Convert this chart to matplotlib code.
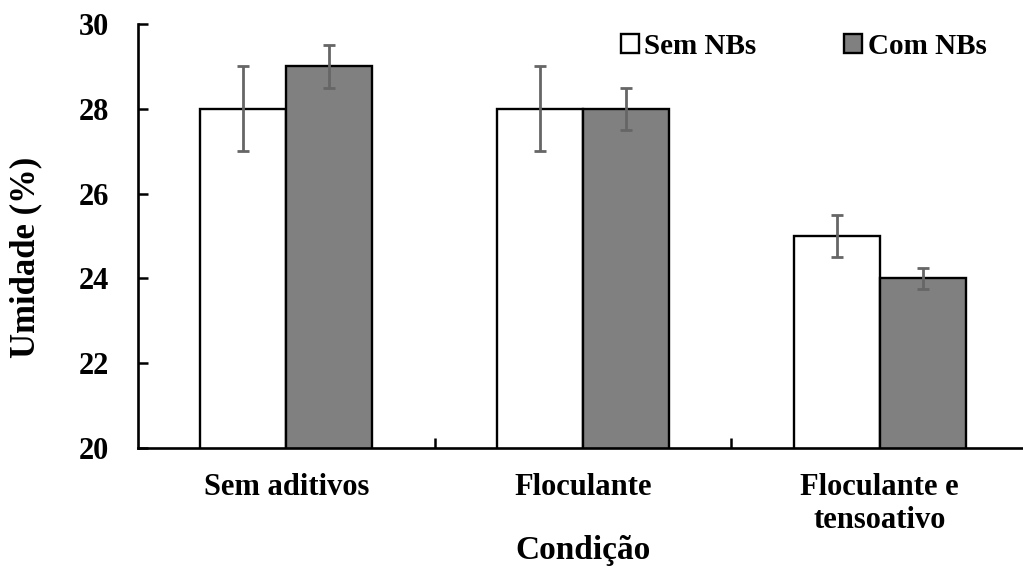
import numpy as np
import matplotlib.pyplot as plt

plt.rcParams['font.family'] = ['Liberation Serif', 'DejaVu Serif']
plt.rcParams['font.weight'] = 'bold'

condicoes = ['Sem aditivos', 'Floculante', 'Floculante e\ntensoativo']
sem_nbs = [28, 28, 25]
sem_nbs_err = [1, 1, 0.5]
com_nbs = [29, 28, 24]
com_nbs_err = [0.5, 0.5, 0.25]

x = np.arange(len(condicoes))
w = 0.29

fig = plt.figure(figsize=(10.23, 5.66), dpi=100)
ax = fig.add_axes([138 / 1023, 1 - 448 / 566, 890 / 1023, 424 / 566])

err_kw = dict(ecolor='#666666', elinewidth=2.0, capsize=4.5, capthick=2.0)
ax.bar(x - w / 2, sem_nbs, w, yerr=sem_nbs_err, color='white', edgecolor='black',
       linewidth=1.7, label='Sem NBs', error_kw=err_kw, zorder=2)
ax.bar(x + w / 2, com_nbs, w, yerr=com_nbs_err, color='#808080', edgecolor='black',
       linewidth=1.7, label='Com NBs', error_kw=err_kw, zorder=2)

ax.set_xlim(-0.5, 2.5)
ax.set_ylim(20, 30)
ax.set_yticks([20, 22, 24, 26, 28, 30])
ax.set_xticks(x)
ax.set_xticklabels(condicoes, fontsize=22, fontweight='bold', linespacing=1.2)
ax.set_xticks([0.5, 1.5], minor=True)
ax.tick_params(axis='x', which='major', length=0, pad=18)
ax.tick_params(axis='x', which='minor', length=7, width=1.8, direction='in')
ax.tick_params(axis='y', length=7, width=1.8, direction='in', labelsize=22, pad=21)
for lab in ax.get_yticklabels():
    lab.set_fontweight('bold')

for s in ['top', 'right']:
    ax.spines[s].set_visible(False)
for s in ['left', 'bottom']:
    ax.spines[s].set_linewidth(1.9)

ax.set_xlabel('Condição', fontsize=24, fontweight='bold')
ax.set_ylabel('Umidade (%)', fontsize=25, fontweight='bold')
ax.xaxis.set_label_coords(0.5, -0.205)
ax.yaxis.set_label_coords(-0.108, 0.45)

fig.legend(loc='upper right', bbox_to_anchor=(1001 / 1023, 1 - 18 / 566), ncol=2,
           frameon=False, fontsize=21, handlelength=0.6, handleheight=0.6,
           handletextpad=0.2, columnspacing=3.0, borderpad=0)

fig.savefig('out.png', dpi=100)
